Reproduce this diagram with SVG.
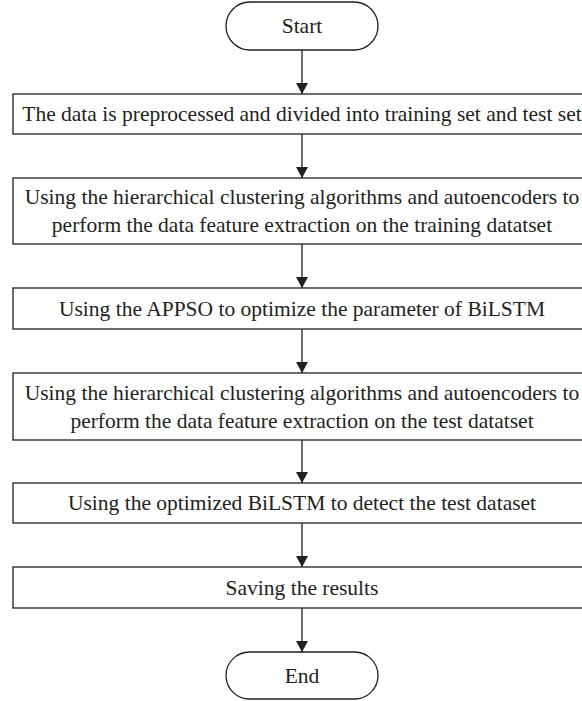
<svg xmlns="http://www.w3.org/2000/svg" width="582" height="701" viewBox="0 0 582 701">
<defs>
<style>
.box{fill:#fff;stroke:#231f20;stroke-width:1.3}
.t{font-family:"Liberation Serif","Times New Roman",serif;font-size:21.5px;fill:#231f20;text-anchor:middle}
.c{stroke:#231f20;stroke-width:1.3;fill:none;marker-end:url(#ah)}
</style>
<marker id="ah" markerWidth="12" markerHeight="12" refX="11" refY="6" orient="auto" markerUnits="userSpaceOnUse">
<path d="M0,0 L11,6 L0,12 Z" fill="#231f20"/>
</marker>
</defs>
<rect width="582" height="701" fill="#fff"/>
<g id="connectors">
<line class="c" x1="302" y1="50" x2="302" y2="94"/>
<line class="c" x1="302" y1="134" x2="302" y2="178"/>
<line class="c" x1="302" y1="244" x2="302" y2="288"/>
<line class="c" x1="302" y1="329" x2="302" y2="373"/>
<line class="c" x1="302" y1="440" x2="302" y2="483"/>
<line class="c" x1="302" y1="523" x2="302" y2="567"/>
<line class="c" x1="302" y1="608" x2="302" y2="652"/>
</g>
<g id="start">
<rect class="box" x="226" y="2" width="152" height="48" rx="24"/>
<text class="t" x="302" y="33">Start</text>
</g>
<g id="step1">
<rect class="box" x="13" y="94" width="578" height="40"/>
<text class="t" x="302" y="121">The data is preprocessed and divided into training set and test set</text>
</g>
<g id="step2">
<rect class="box" x="13" y="178" width="578" height="66"/>
<text class="t" x="302" y="204">Using the hierarchical clustering algorithms and autoencoders to</text>
<text class="t" x="302" y="232">perform the data feature extraction on the training datatset</text>
</g>
<g id="step3">
<rect class="box" x="13" y="288" width="578" height="41"/>
<text class="t" x="302" y="316">Using the APPSO to optimize the parameter of BiLSTM</text>
</g>
<g id="step4">
<rect class="box" x="13" y="373" width="578" height="67"/>
<text class="t" x="302" y="400">Using the hierarchical clustering algorithms and autoencoders to</text>
<text class="t" x="302" y="428">perform the data feature extraction on the test datatset</text>
</g>
<g id="step5">
<rect class="box" x="13" y="483" width="578" height="40"/>
<text class="t" x="302" y="510">Using the optimized BiLSTM to detect the test dataset</text>
</g>
<g id="step6">
<rect class="box" x="13" y="567" width="578" height="41"/>
<text class="t" x="302" y="595">Saving the results</text>
</g>
<g id="end">
<rect class="box" x="226" y="652" width="152" height="47" rx="23.5"/>
<text class="t" x="302" y="683">End</text>
</g>
</svg>
